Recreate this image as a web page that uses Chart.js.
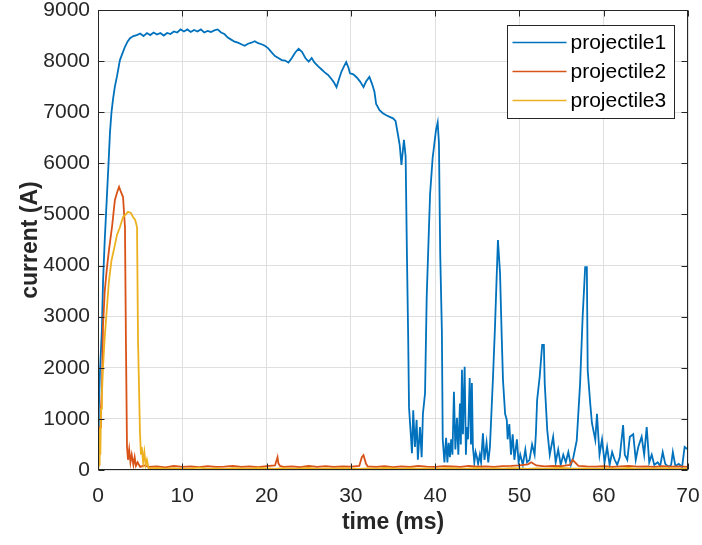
<!DOCTYPE html>
<html>
<head>
<meta charset="utf-8">
<title>projectile current</title>
<script src="https://cdn.jsdelivr.net/npm/chart.js@4.4.1/dist/chart.umd.min.js"></script>
<style>
    html, body { margin: 0; padding: 0; background: #ffffff; }
    #wrap { position: relative; width: 702px; height: 545px; }
</style>
</head>
<body>
<div id="wrap"><canvas id="currentChart"></canvas></div>
<script>
// time (ms) and current (A)
const time1 = [
    0, 0.1, 0.25, 0.45, 0.6, 0.8, 1.07, 1.25, 1.42, 1.6, 1.78, 2.0, 2.25, 2.6, 2.9, 3.2, 3.5, 3.8, 4.2,
    4.6, 5.0, 5.4, 5.8, 6.2, 6.6, 7.0, 7.4, 7.8, 8.2, 8.6, 9.0, 9.4, 9.8, 10.2, 10.6, 11.0, 11.4, 11.8,
    12.2, 12.6, 13.0, 13.4, 13.8, 14.2, 14.6, 15.0, 15.4, 15.8, 16.2, 16.6, 17.0, 17.4, 17.8, 18.2, 18.6,
    19.0, 19.4, 19.8, 20.2, 20.6, 21.0, 21.4, 21.8, 22.2, 22.6, 23.0, 23.4, 23.8, 24.2, 24.6, 25.0, 25.35,
    25.7, 26.1, 26.5, 26.9, 27.3, 27.7, 28.0, 28.3, 28.6, 28.9, 29.2, 29.45, 29.7, 29.9, 30.3, 30.7, 31.1,
    31.5, 31.8, 32.2, 32.5, 32.8, 33.0, 33.4, 33.8, 34.2, 34.6, 35.0, 35.3, 35.6, 35.8, 36.0, 36.3, 36.5,
    36.65, 36.8, 36.9,
    37.1, 37.25, 37.4, 37.6, 37.8, 37.95, 38.2, 38.4, 38.55,
    38.8, 39.0, 39.4, 39.7, 40.1, 40.3, 40.45, 40.6, 40.8, 40.9, 41.1,
    41.3, 41.45, 41.6, 41.75, 41.9, 42.05, 42.23, 42.4, 42.59, 42.75, 42.94, 43.05, 43.18, 43.3, 43.5,
    43.65, 43.77, 43.9, 44.1, 44.25, 44.36, 44.48, 44.65, 44.8, 44.96, 45.1, 45.3, 45.45, 45.67, 45.85,
    46.1, 46.3, 46.5,
    46.86, 47.1, 47.3, 47.45, 47.7, 47.9, 48.05, 48.3, 48.5, 48.6, 48.8, 49.0, 49.2, 49.4, 49.7, 49.9,
    50.1, 50.4, 50.7, 50.9, 51.2, 51.5, 51.8, 51.95,
    52.1, 52.4, 52.7, 52.9, 53.0, 53.3, 53.6, 54.0, 54.3, 54.6, 54.9, 55.2, 55.5, 55.8, 56.1, 56.4,
    56.8, 57.2, 57.5, 57.8, 58.0, 58.1, 58.4, 58.6, 59.0, 59.2, 59.5, 59.8, 60.1, 60.4, 60.7, 61.0,
    61.3, 61.6, 61.9, 62.3, 62.5, 62.8, 63.1, 63.5, 63.8, 64.1, 64.5, 64.8, 65.1, 65.4, 65.7, 66.0,
    66.4, 66.7, 67.0, 67.3, 67.7, 68.0, 68.2, 68.5, 68.9, 69.3, 69.6, 70.0
];
const current1 = [
    300, 1200, 2000, 2700, 3700, 4500, 5400, 6000, 6600, 7000, 7250, 7500, 7700, 8020, 8150, 8280, 8380, 8450, 8490,
    8510, 8540, 8490, 8550, 8510, 8560, 8520, 8550, 8500, 8550, 8530, 8580, 8560, 8620, 8580, 8620, 8570, 8610, 8580,
    8620, 8560, 8590, 8570, 8600, 8620, 8560, 8530, 8460, 8420, 8380, 8360, 8330, 8300, 8340, 8360, 8390,
    8350, 8330, 8300, 8250, 8170, 8100, 8060, 8020, 8010, 7970, 8060, 8170, 8240, 8180, 8060, 7990, 8060,
    7970, 7900, 7840, 7780, 7730, 7650, 7580, 7490, 7650, 7800, 7900, 7980, 7880, 7760, 7740, 7680, 7600,
    7490, 7600, 7690, 7560, 7400, 7160, 7040, 6980, 6940, 6910, 6880, 6830, 6550, 6350, 5970, 6460, 6130,
    4250, 2600, 1230,
    720, 330, 1170, 450, 980, 200, 840, 250, 1100,
    1500, 3400, 5400, 6100, 6650, 6800, 6400, 4250, 2700, 600, 150,
    630, 150, 530, 250, 600, 300, 1530, 400, 1020, 300, 1300, 500, 1960, 700, 2020,
    300, 840, 600, 1800, 500, 1700, 450, 150, 350, 250, 120, 300, 150, 720, 200,
    530, 150, 450,
    1800, 2800, 3780, 4500, 3850, 2600, 1760, 1100, 980, 600, 900, 300, 700, 200, 600, 150,
    300, 100, 400, 150, 200, 500, 300, 700,
    1370, 1820, 2450, 2450, 1700, 780, 300, 650, 150, 400, 100, 300, 150, 350, 100, 250,
    580, 1700, 3000, 3970, 3970, 1950, 1300, 920, 590, 1100, 300, 600, 150, 450, 100, 350,
    200, 100, 250, 880, 300, 200, 650, 700, 200, 450, 650, 300, 840, 150, 300, 100,
    150, 80, 350, 120, 60, 100, 350, 80, 120, 60, 450, 400
];

const time2 = [
    0, 0.15, 0.24, 0.35, 0.47, 0.59, 0.8, 1.07, 1.3, 1.66, 2.0, 2.3, 2.5, 2.7, 2.97, 3.2, 3.32, 3.44, 3.56,
    3.7, 3.85, 4.0, 4.2, 4.35, 4.5, 4.7, 5.0, 5.5,
    6, 7, 8, 9, 10, 11, 12, 13, 14, 15, 16, 17, 18, 19, 20, 21, 21.3, 21.4, 21.6, 22, 23, 24, 25, 26,
    27, 28, 29, 30, 31, 31.3, 31.5, 31.8, 32, 33, 34, 35, 36, 37, 38, 39, 40, 41, 42, 43, 44, 45, 46,
    47, 48, 49, 50, 51, 51.4, 52, 53, 54, 55, 56, 56.3, 57, 58, 59, 60, 61, 62, 63, 64, 65, 66, 67,
    68, 69, 70
];
const current2 = [
    0, 300, 840, 1200, 1570, 2800, 3500, 3970, 4300, 4750, 5280, 5450, 5540, 5450, 5340, 4750, 2400, 450, 200,
    400, 150, 300, 100, 250, 80, 150, 60, 90,
    60, 70, 50, 80, 60, 70, 55, 75, 60, 65, 80, 60, 70, 55, 75, 90, 250, 130, 80, 60, 70, 55, 80, 60,
    75, 60, 70, 65, 80, 250, 290, 120, 70, 60, 75, 55, 70, 60, 80, 65, 60, 75, 70, 60, 80, 65, 70,
    60, 75, 80, 90, 110, 150, 90, 70, 80, 75, 100, 200, 80, 70, 65, 75, 60, 70, 80, 65, 70, 60, 75,
    65, 70, 60
];

const time3 = [
    0, 0.05, 0.12, 0.2, 0.28, 0.36, 0.47, 0.59, 0.8, 1.07, 1.3, 1.6, 2.0, 2.25, 2.6, 2.97, 3.3, 3.56, 3.9,
    4.15, 4.4, 4.63, 4.75, 4.98, 5.1, 5.2, 5.35, 5.5, 5.65, 5.8, 6.0,
    7, 8, 9, 10, 11, 12, 13, 14, 15, 16, 17, 18, 19, 20, 21, 22, 23, 24, 25, 26, 27, 28, 29, 30, 31, 32,
    33, 34, 35, 36, 37, 38, 39, 40, 41, 42, 43, 44, 45, 46, 47, 48, 49, 50, 51, 52, 53, 54, 55, 56, 57,
    58, 59, 60, 61, 62, 63, 64, 65, 66, 67, 68, 69, 70
];
const current3 = [
    0, 850, 100, 800, 300, 1200, 1500, 2000, 2600, 3200, 3700, 4100, 4400, 4600, 4750, 4950, 5000, 5050, 5030,
    4950, 4900, 4750, 2540, 720, 300, 450, 150, 350, 100, 200, 30,
    40, 25, 35, 20, 30, 45, 25, 30, 20, 35, 30, 25, 40, 30, 20, 35, 25, 30, 40, 20, 30, 25, 35, 30, 20, 30,
    25, 40, 30, 20, 35, 25, 30, 20, 30, 35, 25, 30, 40, 20, 30, 25, 35, 30, 20, 30, 25, 35, 40, 30, 25,
    30, 20, 35, 25, 30, 40, 20, 30, 25, 35, 30, 20, 30
];

const seriesLabels = ['projectile1', 'projectile2', 'projectile3'];
const seriesColors = ['#0072BD', '#D95319', '#EDB120'];
const xTicks = [0, 10, 20, 30, 40, 50, 60, 70];
const yTicks = [0, 1000, 2000, 3000, 4000, 5000, 6000, 7000, 8000, 9000];

const fontFamily = '"Liberation Sans", Arial, sans-serif';

function toPoints(xs, ys) {
    return xs.map((x, i) => ({ x: x, y: ys[i] }));
}

// keep the tick label overhang from pushing the plot box inward
function noOverhang(s) {
    s.paddingTop = 0;
    s.paddingBottom = 0;
    s.paddingLeft = 0;
    s.paddingRight = 0;
}

// box, inward tick marks and legend drawn like a MATLAB axes
const matlabFrame = {
    id: 'matlabFrame',
    afterDatasetsDraw(chart) {
        const ctx = chart.ctx;
        const a = chart.chartArea;
        const xs = chart.scales.x;
        const ys = chart.scales.y;
        const L = Math.round(a.left) + 0.5, R = Math.round(a.right) - 0.5;
        const T = Math.round(a.top) + 0.5, B = Math.round(a.bottom) - 0.5;
        ctx.save();
        ctx.strokeStyle = '#262626';
        ctx.lineWidth = 1;
        ctx.beginPath();
        xTicks.forEach(v => {
            const px = Math.round(xs.getPixelForValue(v)) + 0.5;
            ctx.moveTo(px, B); ctx.lineTo(px, B - 6);
            ctx.moveTo(px, T); ctx.lineTo(px, T + 6);
        });
        yTicks.forEach(v => {
            const py = Math.round(ys.getPixelForValue(v)) + 0.5;
            ctx.moveTo(L, py); ctx.lineTo(L + 6, py);
            ctx.moveTo(R, py); ctx.lineTo(R - 6, py);
        });
        ctx.stroke();
        ctx.strokeRect(L, T, R - L, B - T);

        // legend
        const w = 167, h = 93;
        const lx = Math.round(a.right - 14 - w) + 0.5;
        const ly = Math.round(a.top + 15) + 0.5;
        ctx.fillStyle = '#ffffff';
        ctx.fillRect(lx, ly, w, h);
        ctx.strokeStyle = '#262626';
        ctx.strokeRect(lx, ly, w, h);
        ctx.font = '21px ' + fontFamily;
        ctx.textBaseline = 'middle';
        ctx.textAlign = 'left';
        chart.data.datasets.forEach((ds, i) => {
            const ry = ly + 17 + i * 29;
            ctx.strokeStyle = ds.borderColor;
            ctx.lineWidth = 1.6;
            ctx.beginPath();
            ctx.moveTo(lx + 5, ry);
            ctx.lineTo(lx + 59, ry);
            ctx.stroke();
            ctx.fillStyle = '#000000';
            ctx.fillText(ds.label, lx + 63, ry + 1);
        });
        ctx.restore();
    }
};

const ctx = document.getElementById('currentChart');
const currentChart = new Chart(ctx, {
    type: 'line',
    data: {
        datasets: [
            { label: seriesLabels[0], data: toPoints(time1, current1), borderColor: seriesColors[0], order: 3 },
            { label: seriesLabels[1], data: toPoints(time2, current2), borderColor: seriesColors[1], order: 2 },
            { label: seriesLabels[2], data: toPoints(time3, current3), borderColor: seriesColors[2], order: 1 }
        ]
    },
    options: {
        responsive: true,
        maintainAspectRatio: false,
        animation: false,
        layout: { padding: { left: 0, right: 14, top: 10, bottom: 0 } },
        elements: {
            point: { radius: 0 },
            line: { borderWidth: 1.8, tension: 0, fill: false }
        },
        plugins: {
            legend: { display: false },
            tooltip: { enabled: false }
        },
        scales: {
            x: {
                type: 'linear',
                min: 0,
                max: 70,
                afterFit: s => { s.height = 75; noOverhang(s); },
                afterBuildTicks: s => { s.ticks = xTicks.map(v => ({ value: v })); },
                ticks: {
                    font: { family: fontFamily, size: 21 },
                    color: '#262626',
                    padding: 14,
                    maxRotation: 0,
                    callback: v => String(v)
                },
                grid: { color: '#dfdfdf', drawTicks: false },
                border: { display: false },
                title: {
                    display: true,
                    text: 'time (ms)',
                    font: { family: fontFamily, size: 23, weight: 'bold' },
                    color: '#262626',
                    padding: { bottom: 9 }
                }
            },
            y: {
                min: 0,
                max: 9000,
                afterFit: s => { s.width = 98; noOverhang(s); },
                afterBuildTicks: s => { s.ticks = yTicks.map(v => ({ value: v })); },
                ticks: {
                    font: { family: fontFamily, size: 21 },
                    color: '#262626',
                    padding: 8,
                    callback: v => String(v)
                },
                grid: { color: '#dfdfdf', drawTicks: false },
                border: { display: false },
                title: {
                    display: true,
                    text: 'current (A)',
                    font: { family: fontFamily, size: 23, weight: 'bold' },
                    color: '#262626',
                    padding: { top: 17 }
                }
            }
        }
    },
    plugins: [matlabFrame]
});
</script>
</body>
</html>
